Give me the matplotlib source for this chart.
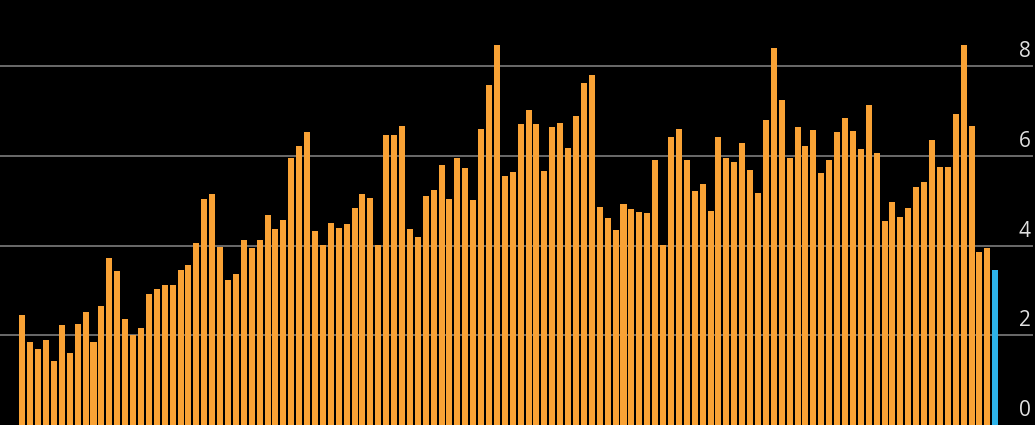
import matplotlib
matplotlib.use("Agg")
import matplotlib.pyplot as plt
import numpy as np

values = [
    2.46, 1.85, 1.70, 1.89, 1.42, 2.22, 1.61, 2.26, 2.52, 1.84,
    2.65, 3.73, 3.43, 2.36, 2.00, 2.17, 2.91, 3.03, 3.11, 3.13,
    3.46, 3.57, 4.05, 5.03, 5.15, 3.96, 3.23, 3.36, 4.12, 3.94,
    4.13, 4.68, 4.36, 4.57, 5.95, 6.23, 6.54, 4.33, 4.01, 4.51,
    4.39, 4.48, 4.85, 5.15, 5.07, 4.01, 6.46, 6.46, 6.66, 4.38,
    4.19, 5.10, 5.23, 5.80, 5.03, 5.96, 5.73, 5.02, 6.61, 7.59,
    8.48, 5.56, 5.64, 6.72, 7.03, 6.71, 5.67, 6.65, 6.74, 6.17,
    6.90, 7.63, 7.81, 4.86, 4.62, 4.35, 4.93, 4.82, 4.74, 4.73,
    5.90, 4.02, 6.42, 6.60, 5.91, 5.21, 5.37, 4.77, 6.42, 5.96,
    5.86, 6.30, 5.69, 5.17, 6.80, 8.40, 7.25, 5.96, 6.65, 6.22,
    6.57, 5.62, 5.90, 6.54, 6.84, 6.55, 6.15, 7.14, 6.06, 4.54,
    4.97, 4.63, 4.84, 5.31, 5.43, 6.35, 5.75, 5.76, 6.93, 8.48,
    6.66, 3.86, 3.94, 3.45,
]
y_ticks = [0, 2, 4, 6, 8]
y_labels = ["0", "2", "4", "6", "8"]

ORANGE = "#F9A235"
BLUE = "#2DB3EA"
GRID = "#6a6a6a"

W, H = 1035, 425
fig = plt.figure(figsize=(W / 100, H / 100), dpi=100, facecolor="black")
ax = fig.add_axes([0, 0, 1, 1])
ax.set_facecolor("black")

n = len(values)
x = np.arange(n)
colors = [ORANGE] * (n - 1) + [BLUE]

pitch = 7.91  # pixels per bar
x_left = -22.3 / pitch
x_right = (n - 1) + (W - 995.3) / pitch
ax.set_xlim(x_left, x_right)
# ~44.8 px per unit, zero line near the bottom edge
scale = 44.8
ax.set_ylim(-0.2 / scale, 424.8 / scale)

for t in y_ticks[1:]:
    ax.axhline(t, xmin=0, xmax=1032 / W, color=GRID, linewidth=1.4, zorder=0)

ax.bar(x, values, width=0.76, color=colors, linewidth=0, zorder=2)

for t, lab in zip(y_ticks, y_labels):
    ax.annotate(lab, xy=(1.0, t), xycoords=("axes fraction", "data"),
                xytext=(-3, 6.5), textcoords="offset points",
                ha="right", va="baseline", color="#e0e0e0", fontsize=15,
                family="Open Sans")

ax.set_xticks([])
ax.set_yticks([])
for s in ax.spines.values():
    s.set_visible(False)

fig.savefig("out.png", dpi=100, facecolor="black")
